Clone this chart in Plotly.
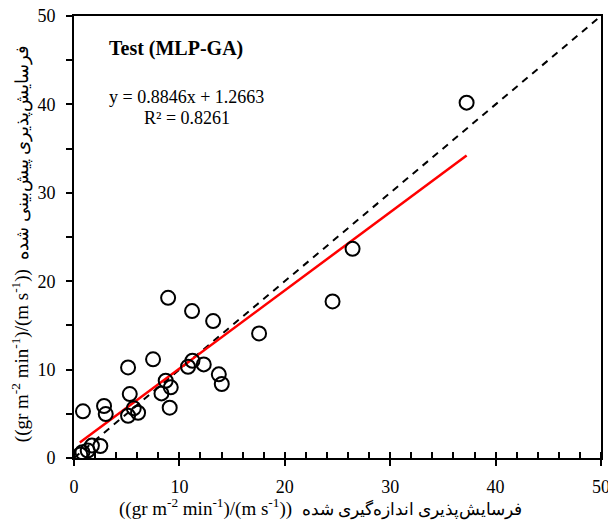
import plotly.graph_objects as go

# Measured vs predicted erodibility (Test, MLP-GA)
measured = [37.25, 26.43, 24.53, 8.93, 11.2, 13.2, 17.56, 7.5, 5.13, 11.24,
            10.82, 12.31, 13.74, 14.02, 8.7, 9.18, 8.3, 9.08, 5.29, 2.85,
            3.01, 0.85, 5.13, 6.08, 5.67, 2.5, 1.7, 1.3, 0.8, 0.6]
predicted = [40.2, 23.66, 17.71, 18.12, 16.62, 15.49, 14.09, 11.16, 10.25, 11.0,
             10.32, 10.59, 9.46, 8.37, 8.74, 7.99, 7.31, 5.69, 7.23, 5.88,
             4.97, 5.28, 4.78, 5.12, 5.62, 1.36, 1.4, 0.85, 0.65, 0.4]

slope = 0.8846
intercept = 1.2663
r2 = 0.8261
trend_x = [0.55, 37.25]
trend_y = [slope * v + intercept for v in trend_x]

one_to_one = [0, 50]

x_ticks = [0, 10, 20, 30, 40, 50]
y_ticks = [0, 10, 20, 30, 40, 50]

FONT = "Liberation Serif"
UNITS = "((gr m<sup>-2</sup> min<sup>-1</sup>)/(m s<sup>-1</sup>))"

fig = go.Figure()
fig.add_trace(go.Scatter(x=one_to_one, y=one_to_one, mode="lines",
                         line=dict(color="black", width=2, dash="7px,6px"),
                         showlegend=False, hoverinfo="skip"))
fig.add_trace(go.Scatter(x=trend_x, y=trend_y, mode="lines",
                         line=dict(color="#ff0000", width=2.5),
                         showlegend=False))
fig.add_trace(go.Scatter(x=measured, y=predicted, mode="markers",
                         marker=dict(symbol="circle-open", size=14, color="black",
                                     line=dict(width=2, color="black")),
                         showlegend=False))

fig.update_layout(
    width=616, height=526, autosize=False,
    margin=dict(l=66, r=23, t=8, b=76),
    paper_bgcolor="white", plot_bgcolor="white",
    font=dict(family=FONT, size=16, color="black"),
    xaxis=dict(range=[0, 50], tickvals=x_ticks, showgrid=False, zeroline=False,
               automargin=False, ticklabeloverflow="allow",
               showline=True, linecolor="black", linewidth=2, mirror=True,
               ticks="outside", ticklen=6, tickwidth=1.5, tickcolor="black",
               ticklabelstandoff=5,
               minor=dict(dtick=2, ticks="inside", ticklen=6, tickwidth=1.5,
                          tickcolor="black", showgrid=False),
               tickfont=dict(family=FONT, size=18)),
    yaxis=dict(range=[0, 50], tickvals=y_ticks, showgrid=False, zeroline=False,
               automargin=False, ticklabeloverflow="allow",
               showline=True, linecolor="black", linewidth=2, mirror=True,
               ticks="outside", ticklen=6, tickwidth=1.5, tickcolor="black",
               ticklabelstandoff=7,
               minor=dict(dtick=5, ticks="outside", ticklen=6, tickwidth=1.5,
                          tickcolor="black", showgrid=False),
               tickfont=dict(family=FONT, size=18)),
)

fig.add_annotation(xref="paper", yref="paper", x=0.1935, y=0.9276, xanchor="center",
                   yanchor="middle", showarrow=False,
                   text="<b>Test (MLP-GA)</b>", font=dict(family=FONT, size=20))
fig.add_annotation(xref="paper", yref="paper", x=0.2144, y=0.8167, xanchor="center",
                   yanchor="middle", showarrow=False,
                   text=f"y = {slope}x + {intercept}", font=dict(family=FONT, size=18))
fig.add_annotation(xref="paper", yref="paper", x=0.2144, y=0.769, xanchor="center",
                   yanchor="middle", showarrow=False,
                   text=f"R² = {r2}", font=dict(family=FONT, size=18))

fig.add_annotation(xref="paper", yref="paper", x=0.467, y=-0.111, yanchor="middle",
                   xanchor="center", showarrow=False,
                   text=UNITS + '  <span style="font-size:17px">فرسایش‌پذیری اندازه‌گیری شده</span>',
                   font=dict(family=FONT, size=19))
fig.add_annotation(xref="paper", yref="paper", x=-0.1025, y=0.486, xanchor="center",
                   yanchor="middle", textangle=-90, showarrow=False,
                   text=UNITS + '  <span style="font-size:18px">فرسایش‌پذیری پیش‌بینی شده</span>',
                   font=dict(family=FONT, size=19))

fig.write_html("out.html")
